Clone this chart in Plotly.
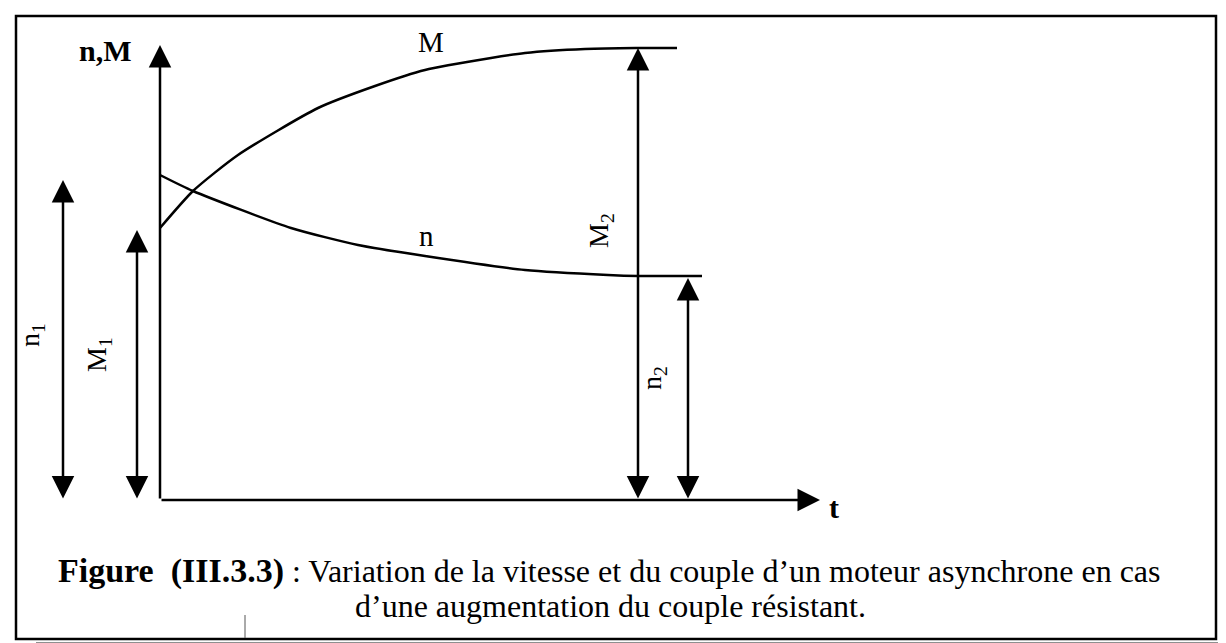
import plotly.graph_objects as go

# ---- data (chart units: t along time axis, value along n,M axis) ----
t_M = [0, 0.33, 0.78, 1.58, 2.15, 2.65, 3.31, 3.65, 4.25, 4.76, 5.17]
M_vals = [2.72, 3.09, 3.45, 3.92, 4.14, 4.30, 4.42, 4.47, 4.51, 4.52, 4.52]
t_n = [0, 0.33, 1.31, 1.98, 2.65, 3.65, 4.48, 4.78, 5.42]
n_vals = [3.25, 3.09, 2.72, 2.55, 2.44, 2.30, 2.25, 2.24, 2.24]

# dimension arrows: time position, top value, label and label position
dim_names = ["n1", "M1", "M2", "n2"]
dim_t = [-0.97, -0.23, 4.78, 5.28]
dim_top = [3.20, 2.70, 4.52, 2.22]
dim_labels = ["n<sub>1</sub>", "M<sub>1</sub>", "M<sub>2</sub>", "n<sub>2</sub>"]
dim_label_t = [-1.29, -0.62, 4.40, 4.93]
dim_label_v = [1.65, 1.45, 2.69, 1.22]

axis_t_end = 6.60
axis_v_end = 4.55

caption_bold = "Figure  (III.3.3)"
caption_line1 = " : Variation de la vitesse et du couple d’un moteur asynchrone en cas"
caption_line2 = "d’une augmentation du couple résistant."

SERIF = "Liberation Serif, Times New Roman, serif"
BLACK = "#000000"

fig = go.Figure()

for tx, vy in ((t_M, M_vals), (t_n, n_vals)):
    fig.add_trace(go.Scatter(x=tx, y=vy, mode="lines",
                             line=dict(color=BLACK, width=2.5, shape="spline", smoothing=0.6),
                             hoverinfo="skip", showlegend=False))

HEAD = dict(arrowhead=2, arrowsize=1.8, arrowwidth=2.5, arrowcolor=BLACK)
ann = []
ann.append(dict(x=0, y=axis_v_end, ax=0, ay=0, xref="x", yref="y", axref="x", ayref="y",
                text="", showarrow=True, **HEAD))
ann.append(dict(x=axis_t_end, y=0, ax=0, ay=0, xref="x", yref="y", axref="x", ayref="y",
                text="", showarrow=True, **HEAD))

for tp, top in zip(dim_t, dim_top):
    ann.append(dict(x=tp, y=top, ax=tp, ay=0, xref="x", yref="y", axref="x", ayref="y",
                    text="", showarrow=True, arrowside="end+start", startarrowhead=2,
                    startarrowsize=1.8, **HEAD))

for lab, lt, lv in zip(dim_labels, dim_label_t, dim_label_v):
    ann.append(dict(x=lt, y=lv, xref="x", yref="y", text=lab, showarrow=False, textangle=-90,
                    font=dict(family=SERIF, size=28, color=BLACK)))

ann.append(dict(x=-0.26, y=4.50, xref="x", yref="y", text="<b>n,M</b>", showarrow=False, xanchor="right",
                font=dict(family=SERIF, size=30, color=BLACK)))
ann.append(dict(x=6.74, y=-0.07, xref="x", yref="y", text="<b>t</b>", showarrow=False, xanchor="center",
                font=dict(family=SERIF, size=30, color=BLACK)))
ann.append(dict(x=2.71, y=4.58, xref="x", yref="y", text="M", showarrow=False,
                font=dict(family=SERIF, size=29, color=BLACK)))
ann.append(dict(x=2.66, y=2.64, xref="x", yref="y", text="n", showarrow=False,
                font=dict(family=SERIF, size=29, color=BLACK)))

ann.append(dict(x=-1.04, y=-0.71, xref="x", yref="y", xanchor="left", showarrow=False,
                text="<span style='font-size:34px'><b>" + caption_bold + "</b></span>" + caption_line1,
                font=dict(family=SERIF, size=32, color=BLACK)))
ann.append(dict(x=1.93, y=-1.06, xref="x", yref="y", xanchor="left", showarrow=False,
                text=caption_line2, font=dict(family=SERIF, size=32, color=BLACK)))

W, H = 1226, 643
shapes = [
    dict(type="rect", xref="paper", yref="paper", x0=8 / W, x1=1208 / W, y0=1 - 631 / H, y1=1 - 8 / H,
         line=dict(color=BLACK, width=2.5), layer="below"),
    dict(type="rect", xref="paper", yref="paper", x0=1211 / W, x1=1, y0=0, y1=1 - 16 / H,
         fillcolor="#8f8f8f", line=dict(width=0), layer="below"),
    dict(type="rect", xref="paper", yref="paper", x0=28 / W, x1=1, y0=0, y1=1 - 634 / H,
         fillcolor="#8f8f8f", line=dict(width=0), layer="below"),
    dict(type="line", xref="paper", yref="paper", x0=237 / W, x1=237 / W, y0=1 - 607 / H, y1=1 - 630 / H,
         line=dict(color="#555555", width=1)),
]

fig.update_layout(
    width=W, height=H, margin=dict(l=0, r=0, t=0, b=0),
    paper_bgcolor="white", plot_bgcolor="white",
    xaxis=dict(range=[-1.52, 10.74], visible=False, fixedrange=True),
    yaxis=dict(range=[-1.51, 4.92], visible=False, fixedrange=True),
    annotations=ann, shapes=shapes, showlegend=False,
)

fig.write_html("out.html")
